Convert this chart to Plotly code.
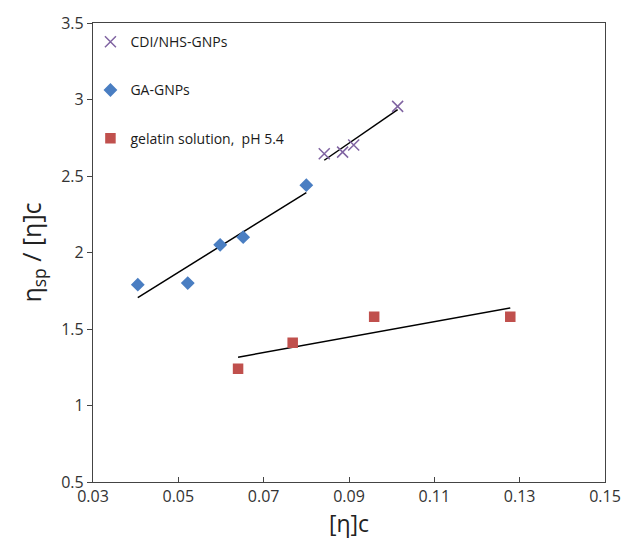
import numpy as np
import plotly.graph_objects as go

# [η]c and reduced viscosity ηsp/[η]c for each sample set
cdi_x = [0.0842, 0.0885, 0.0911, 0.1014]
cdi_y = [2.645, 2.656, 2.703, 2.955]

ga_x = [0.0405, 0.0522, 0.0598, 0.0652, 0.0800]
ga_y = [1.79, 1.80, 2.05, 2.10, 2.44]

gel_x = [0.0640, 0.0768, 0.0959, 0.1278]
gel_y = [1.24, 1.41, 1.58, 1.58]

x_ticks = [0.03, 0.05, 0.07, 0.09, 0.11, 0.13, 0.15]
y_ticks = [0.5, 1, 1.5, 2, 2.5, 3, 3.5]

FONT = "Open Sans"

series = [
    ("CDI/NHS-GNPs", cdi_x, cdi_y, "#8064A2", "x-thin", 11),
    ("GA-GNPs", ga_x, ga_y, "#4A7EC2", "diamond", 9),
    ("gelatin solution,  pH 5.4", gel_x, gel_y, "#C0504D", "square", 9),
]

fig = go.Figure()

for i, (name, xs, ys, color, symbol, size) in enumerate(series):
    # least-squares trend line over the data range
    k, b = np.polyfit(xs, ys, 1)
    xl = np.array([min(xs), max(xs)])
    fig.add_trace(go.Scatter(
        x=xl, y=k * xl + b, mode="lines",
        line=dict(color="black", width=1.5),
        showlegend=False, hoverinfo="skip",
    ))
    fig.add_trace(go.Scatter(
        x=xs, y=ys, mode="markers", name=name, legendgroup=str(i),
        marker=dict(symbol=symbol, size=size, color=color,
                    line=dict(color=color, width=1.5)),
    ))

axis_common = dict(
    showgrid=False, zeroline=False, showline=True, mirror=True,
    linecolor="#444444", linewidth=1.3,
    ticklen=5, tickwidth=1, tickcolor="#444444",
    tickfont=dict(family=FONT, size=16, color="#333333"),
)

fig.update_xaxes(
    range=[0.03, 0.15], tickvals=x_ticks,
    ticktext=[f"{v:g}" for v in x_ticks], ticks="inside",
    title=dict(text="[η]c", font=dict(family=FONT, size=23, color="#222222"),
               standoff=8),
    **axis_common,
)
fig.update_yaxes(
    range=[0.5, 3.5], tickvals=y_ticks,
    ticktext=[f"{v:g}" for v in y_ticks], ticks="outside",
    title=dict(text="η<sub>sp</sub> / [η]c",
               font=dict(family=FONT, size=25, color="#222222"), standoff=12),
    **axis_common,
)

fig.update_layout(
    width=633, height=556,
    margin=dict(l=93, r=17, t=20, b=74),
    paper_bgcolor="white", plot_bgcolor="white",
    font=dict(family=FONT, color="#222222"),
    legend=dict(
        x=-0.005, y=0.993, xanchor="left", yanchor="top",
        bgcolor="rgba(0,0,0,0)", tracegroupgap=27,
        font=dict(family=FONT, size=14, color="#1a1a1a"),
        itemwidth=30,
    ),
)

fig.write_html("out.html")
